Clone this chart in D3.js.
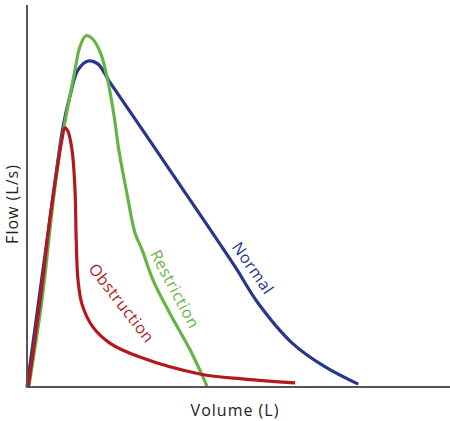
<!DOCTYPE html>
<html>
<head>
<meta charset="utf-8">
<script src="https://cdn.jsdelivr.net/npm/d3@7"></script>
<style>
  html, body { margin: 0; padding: 0; background: #fff; }
  svg { display: block; }
  text { font-family: "Open Sans", "DejaVu Sans", sans-serif; }
</style>
</head>
<body>
<svg id="chart" width="450" height="421"></svg>
<script>
// ---- data (volume in L, flow in L/s) ----
const normalVolume = [0, 0.30, 0.47, 0.60, 0.72, 0.85, 1.02, 1.18, 1.38, 2.05, 2.80, 3.47, 3.85, 4.42, 4.97, 5.52];
const normalFlow   = [0, 4.15, 6.50, 8.17, 9.17, 9.96, 10.24, 10.15, 9.58, 7.73, 5.65, 3.77, 2.64, 1.38, 0.63, 0.09];

const restrictionVolume = [0.03, 0.25, 0.42, 0.55, 0.67, 0.80, 0.88, 0.98, 1.08, 1.22, 1.33, 1.45, 1.53, 1.67, 1.80, 1.92, 2.10, 2.38, 2.72, 3.00];
const restrictionFlow   = [0, 2.73, 5.56, 7.45, 8.70, 9.96, 10.68, 11.03, 10.96, 10.52, 9.77, 8.54, 7.45, 6.03, 4.84, 4.30, 3.36, 2.32, 1.16, 0.03];

const obstructionVolume = [0.02, 0.22, 0.38, 0.50, 0.58, 0.63, 0.68, 0.75, 0.80, 0.82, 0.85, 0.92, 1.10, 1.38, 1.88, 2.88, 3.63, 4.47];
const obstructionFlow   = [0, 2.73, 5.25, 6.82, 7.76, 8.14, 8.04, 7.45, 6.19, 4.62, 3.36, 2.58, 1.88, 1.38, 0.94, 0.41, 0.25, 0.13];

const seriesNames = ["Normal", "Restriction", "Obstruction"];
const xTitle = "Volume (L)";
const yTitle = "Flow (L/s)";

// ---- presentation ----
const colors = { Normal: "#27378c", Restriction: "#64b446", Obstruction: "#b5171f" };
const labelPlacement = {
  Normal:      { v: 3.77, f: 3.74, angle: 55 },
  Restriction: { v: 2.47, f: 3.08, angle: 62 },
  Obstruction: { v: 1.58, f: 2.64, angle: 52 }
};

const svg = d3.select("#chart");
const x = d3.scaleLinear().domain([0, 7]).range([27, 447]);
const y = d3.scaleLinear().domain([0, 12]).range([387, 5]);

const series = [
  { name: seriesNames[0], pts: normalVolume.map((v, i) => [v, normalFlow[i]]) },
  { name: seriesNames[1], pts: restrictionVolume.map((v, i) => [v, restrictionFlow[i]]) },
  { name: seriesNames[2], pts: obstructionVolume.map((v, i) => [v, obstructionFlow[i]]) }
];

const line = d3.line()
  .x(d => x(d[0]))
  .y(d => y(d[1]))
  .curve(d3.curveCatmullRom.alpha(0.5));

svg.selectAll("path.curve")
  .data(series)
  .join("path")
  .attr("class", "curve")
  .attr("d", d => line(d.pts))
  .attr("fill", "none")
  .attr("stroke", d => colors[d.name])
  .attr("stroke-width", 3.2)
  .attr("stroke-linejoin", "round")
  .attr("stroke-linecap", "butt");

// axes (plain lines, no ticks)
const xAxis = d3.axisBottom(x).tickValues([]).tickSizeOuter(0);
const yAxis = d3.axisLeft(y).tickValues([]).tickSizeOuter(0);
const gx = svg.append("g").attr("transform", `translate(0,${y(0)})`).call(xAxis);
const gy = svg.append("g").attr("transform", `translate(${x(0)},0)`).call(yAxis);
gx.select(".domain").attr("stroke", "#555").attr("stroke-width", 2).attr("d", `M${x(0) - 1},0H450`);
gy.select(".domain").attr("stroke", "#555").attr("stroke-width", 2).attr("d", `M0,${y(0) + 1}V5`);

// curve labels
svg.selectAll("text.lbl")
  .data(series)
  .join("text")
  .attr("class", "lbl")
  .attr("transform", d => {
    const p = labelPlacement[d.name];
    return `translate(${x(p.v)},${y(p.f)}) rotate(${p.angle})`;
  })
  .attr("text-anchor", "middle")
  .attr("dominant-baseline", "central")
  .attr("font-size", 16)
  .attr("letter-spacing", 0.6)
  .attr("fill", d => colors[d.name])
  .text(d => d.name);

// axis titles
svg.append("text")
  .attr("x", 235).attr("y", 416)
  .attr("text-anchor", "middle")
  .attr("font-size", 16)
  .attr("letter-spacing", 1)
  .attr("fill", "#222")
  .text(xTitle);

svg.append("text")
  .attr("transform", "translate(18,204) rotate(-90)")
  .attr("text-anchor", "middle")
  .attr("font-size", 16)
  .attr("letter-spacing", 1)
  .attr("fill", "#222")
  .text(yTitle);
</script>
</body>
</html>
